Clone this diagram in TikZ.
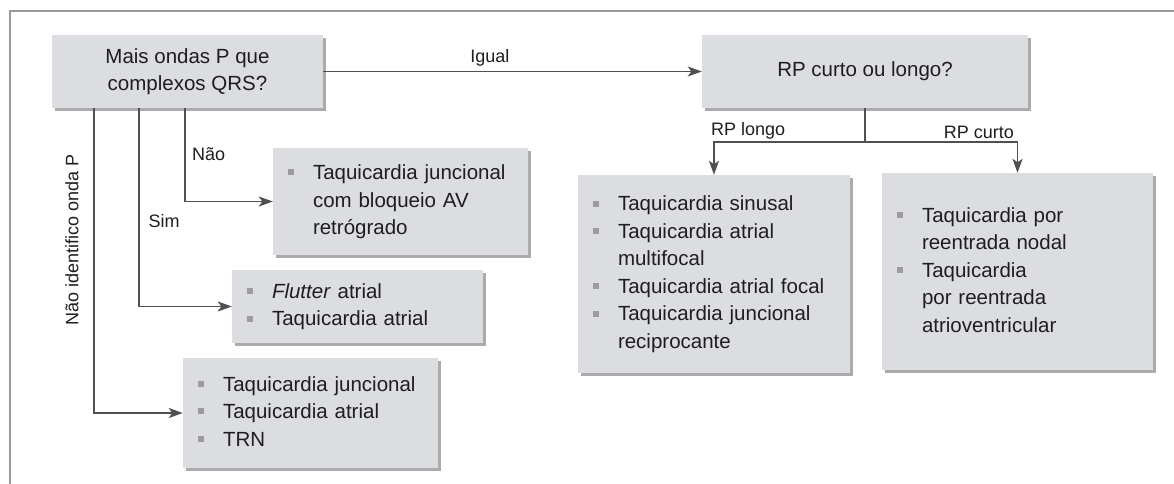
\documentclass[tikz,border=0pt]{standalone}
\usepackage{fontspec}
\setmainfont{Liberation Sans}
\usetikzlibrary{arrows.meta,shadows}
\definecolor{boxc}{HTML}{DCDDE0}
\definecolor{shc}{HTML}{ABABAB}
\definecolor{linec}{HTML}{505050}
\definecolor{txtc}{HTML}{1E1E1E}
\definecolor{bulc}{HTML}{9C9C9C}
\definecolor{framec}{HTML}{9A9A9A}
\newcommand{\bul}{\makebox[25pt][l]{\textcolor{bulc}{\rule[0.2em]{6pt}{6pt}}}}
\begin{document}
\begin{tikzpicture}[x=1pt,y=-1pt,
  box/.style={fill=boxc, draw=none,
    general shadow={fill=shc, shadow xshift=2.5pt, shadow yshift=-3pt},
    inner sep=0pt, text=txtc, font=\fontsize{20.5}{27.5}\selectfont},
  qbox/.style={box, align=center},
  lbox/.style={box, align=left, inner xsep=15pt},
  ln/.style={draw=linec, line width=1.9pt},
  arr/.style={ln, -{Stealth[length=14pt,width=10pt,inset=3.5pt]}},
  lbl/.style={text=txtc, font=\fontsize{18}{20}\selectfont, inner sep=1pt}]
\fill[white] (0,0) rectangle (1174,484);
\useasboundingbox (0,0) rectangle (1174,484);
\draw[draw=framec, line width=1.6pt] (10,484) -- (10,11) -- (1174,11);

\node[qbox, minimum width=271pt, minimum height=73pt] (b1) at (187.5,71.5)
  {Mais ondas P que\\complexos QRS?};
\node[qbox, minimum width=326pt, minimum height=73pt] (rp) at (865,71.5)
  {RP curto ou longo?};

\node[lbox, minimum width=255pt, text width=225pt, minimum height=107pt] (nao) at (400.5,201.5)
  {\begin{tabular}{@{}l@{}l@{}}\bul & Taquicardia juncional\\ & com bloqueio AV\\ & retrógrado\end{tabular}};
\node[lbox, minimum width=251pt, text width=221pt, minimum height=73pt] (flut) at (357.5,306.5)
  {\begin{tabular}{@{}l@{}l@{}}\bul & \textit{Flutter} atrial\\ \bul & Taquicardia atrial\end{tabular}};
\node[lbox, minimum width=255pt, text width=225pt, minimum height=110pt] (bot) at (310.5,413)
  {\begin{tabular}{@{}l@{}l@{}}\bul & Taquicardia juncional\\ \bul & Taquicardia atrial\\ \bul & TRN\end{tabular}};
\node[lbox, minimum width=272pt, text width=242pt, minimum height=198pt] (longo) at (714,274)
  {\begin{tabular}{@{}l@{}l@{}}\bul & Taquicardia sinusal\\ \bul & Taquicardia atrial\\ & multifocal\\ \bul & Taquicardia atrial focal\\ \bul & Taquicardia juncional\\ & reciprocante\end{tabular}};
\node[lbox, minimum width=271pt, text width=241pt, minimum height=197pt] (curto) at (1017.5,271.5)
  {\begin{tabular}{@{}l@{}l@{}}\bul & Taquicardia por\\ & reentrada nodal\\ \bul & Taquicardia\\ & por reentrada\\ & atrioventricular\end{tabular}};

% connectors
\draw[arr] (b1.east) -- (rp.west) node[lbl, pos=0.44, above=3pt] (ligual) {Igual};
\draw[arr] ([xshift=-2.5pt]b1.south) |- (nao.west);
\draw[arr] ([xshift=-48.5pt]b1.south) |- (flut.west);
\draw[arr] ([xshift=-93.5pt]b1.south) |- (bot.west);

\coordinate (split) at (865,142);
\draw[ln] (rp.south) -- (split);
\draw[arr] (split) -| (longo.north);
\draw[arr] (split) -| (curto.north);

% labels
\node[lbl, anchor=west] (lnao) at (191,154) {Não};
\node[lbl] (lsim) at (164,221) {Sim};
\node[lbl, rotate=90] (lnip) at (72,240) {Não identifico onda P};
\node[lbl, anchor=south west] (llongo) at (710,140) {RP longo};
\node[lbl, anchor=south east] (lcurto) at (1015,140) {RP curto};
\end{tikzpicture}
\end{document}
